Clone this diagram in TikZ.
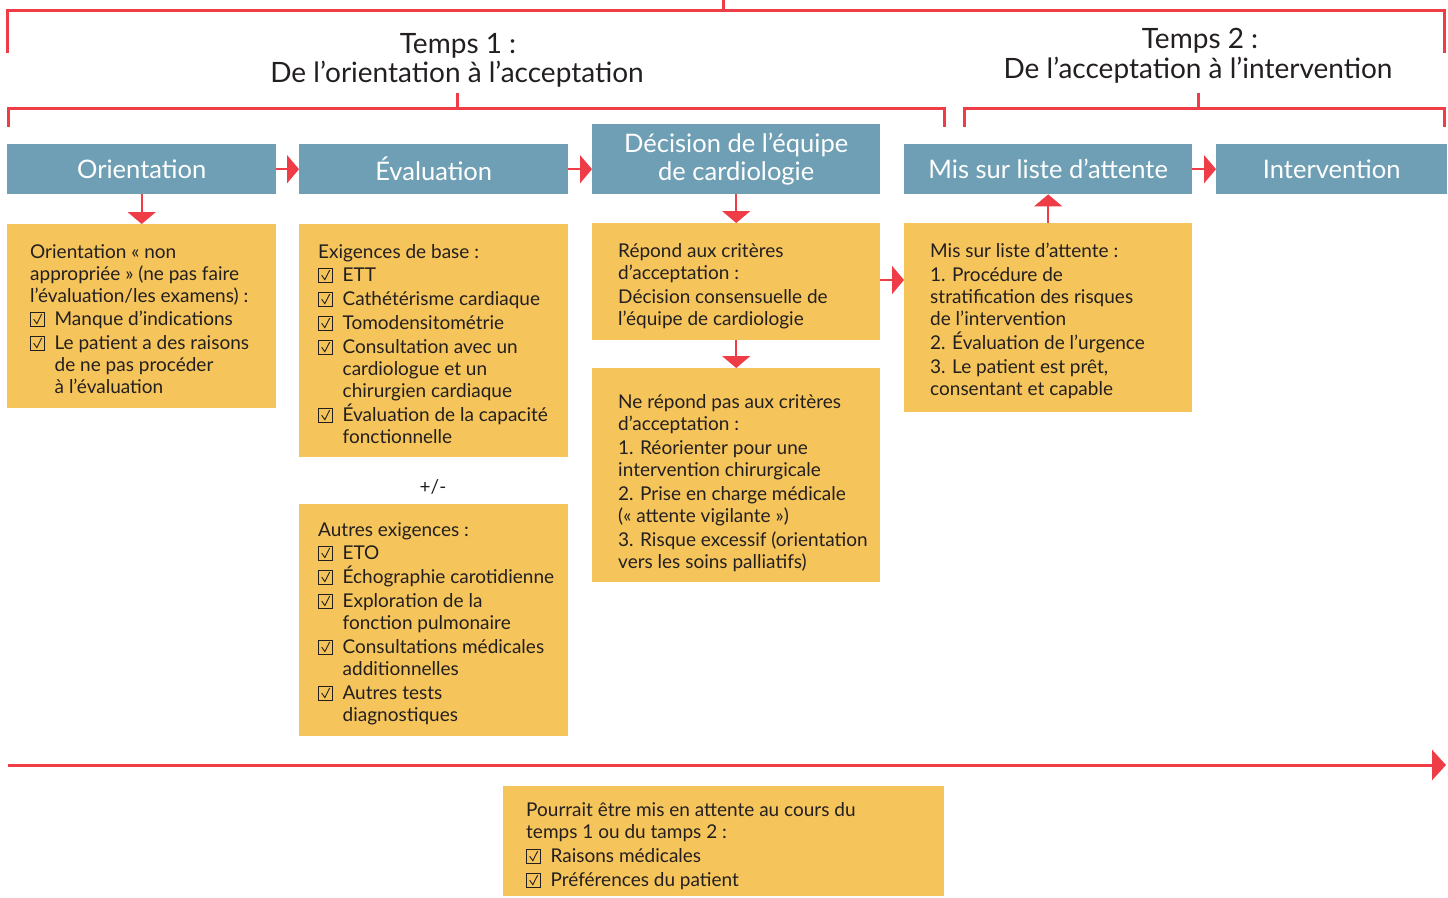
\documentclass[tikz,border=0pt]{standalone}
\usepackage{fontspec}
\setmainfont{Lato}
\usetikzlibrary{arrows.meta}
\definecolor{hdr}{HTML}{6F9FB4}
\definecolor{ybg}{HTML}{F5C55B}
\definecolor{rline}{HTML}{EE3D47}
\definecolor{txt}{HTML}{231F20}
\newcommand\cbx{\tikz[baseline=0pt,x=1pt,y=1pt,line width=0.9pt]{\draw[txt] (0,-1.5) rectangle (13.5,12.5); \draw[txt] (3,6)--(6.2,1.5)--(11,11);}\hspace{10pt}}
\newcommand\ind{\hspace*{24.5pt}}
\begin{document}
\begin{tikzpicture}[x=1pt,y=-1pt,
  hdrbox/.style={fill=hdr, draw=none, text=white, font=\fontsize{25.5}{28}\selectfont, inner sep=0, align=center, anchor=north west},
  ybox/.style={fill=ybg, draw=none, inner sep=0, anchor=north west},
  body/.style={anchor=north west, inner sep=0, align=left, text=txt, font=\fontsize{19}{22}\selectfont},
  ttl/.style={text=txt, inner sep=0, align=center, font=\fontsize{28}{29}\selectfont},
  br/.style={draw=rline, line width=3pt},
  con/.style={draw=rline, line width=2pt, -{Triangle[length=12pt,width=28pt]}},
  timeline/.style={draw=rline, line width=3pt, -{Triangle[length=14pt,width=30pt]}}
]
\useasboundingbox (0,0) rectangle (1448,897);

% brackets
\draw[br] (7,53) |- (1444,10) -- (1444,53);
\draw[br] (723,0) -- (723,10);
\draw[br] (8,127) |- (944,108) -- (944,127);
\draw[br] (457,93) -- (457,108);
\draw[br] (964,127) |- (1444,108) -- (1444,127);
\draw[br] (1198,93) -- (1198,108);

% titles
\node[ttl] (t1a) at (458,46) {Temps 1 :};
\node[ttl] (t1b) at (457,74) {De l’orientation à l’acceptation};
\node[ttl] (t2a) at (1200,41) {Temps 2 :};
\node[ttl] (t2b) at (1198,70) {De l’acceptation à l’intervention};

% headers
\node[hdrbox, minimum width=269, minimum height=50] (h1) at (7,144) {Orientation};
\node[hdrbox, minimum width=269, minimum height=50] (h2) at (299,144) {Évaluation};
\node[hdrbox, minimum width=288, minimum height=70] (h3) at (592,124) {Décision de l’équipe\\de cardiologie};
\node[hdrbox, minimum width=288, minimum height=50] (h4) at (904,144) {Mis sur liste d’attente};
\node[hdrbox, minimum width=231, minimum height=50] (h5) at (1216,144) {Intervention};

% yellow boxes
\node[ybox, minimum width=269, minimum height=184] (o1) at (7,224) {};
\node[ybox, minimum width=269, minimum height=233] (e1) at (299,224) {};
\node[ybox, minimum width=269, minimum height=232] (e2) at (299,504) {};
\node[ybox, minimum width=288, minimum height=117] (d1) at (592,223) {};
\node[ybox, minimum width=288, minimum height=214] (d2) at (592,368) {};
\node[ybox, minimum width=288, minimum height=189] (m1) at (904,223) {};
\node[ybox, minimum width=441, minimum height=110] (b1) at (503,786) {};

% texts
\node[body] (o1t) at (30,244) {Orientation « non\\
appropriée » (ne pas faire\\
l’évaluation/les examens) :\\[1pt]
\cbx Manque d’indications\\[2pt]
\cbx Le patient a des raisons\\
\ind de ne pas procéder\\
\ind à l’évaluation};

\node[body] (e1t) at (318,244) {Exigences de base :\\[1pt]
\cbx ETT\\[2pt]
\cbx Cathétérisme cardiaque\\[2pt]
\cbx Tomodensitométrie\\[2pt]
\cbx Consultation avec un\\
\ind cardiologue et un\\
\ind chirurgien cardiaque\\[2pt]
\cbx Évaluation de la capacité\\
\ind fonctionnelle};

\node[text=txt, inner sep=0, font=\fontsize{19}{22}\selectfont] (pm) at (433,487) {+/-};

\node[body] (e2t) at (318,522) {Autres exigences :\\[1pt]
\cbx ETO\\[2pt]
\cbx Échographie carotidienne\\[2pt]
\cbx Exploration de la\\
\ind fonction pulmonaire\\[2pt]
\cbx Consultations médicales\\
\ind additionnelles\\[2pt]
\cbx Autres tests\\
\ind diagnostiques};

\node[body] (d1t) at (618,243) {Répond aux critères\\
d’acceptation :\\[2pt]
Décision consensuelle de\\
l’équipe de cardiologie};

\node[body] (d2t) at (618,394) {Ne répond pas aux critères\\
d’acceptation :\\[2pt]
1. Réorienter pour une\\
intervention chirurgicale\\[2pt]
2. Prise en charge médicale\\
(« attente vigilante »)\\[2pt]
3. Risque excessif (orientation\\
vers les soins palliatifs)};

\node[body] (m1t) at (930,243) {Mis sur liste d’attente :\\[2pt]
1. Procédure de\\
stratification des risques\\
de l’intervention\\[2pt]
2. Évaluation de l’urgence\\[2pt]
3. Le patient est prêt,\\
consentant et capable};

\node[body] (b1t) at (526,802) {Pourrait être mis en attente au cours du\\
temps 1 ou du tamps 2 :\\[2pt]
\cbx Raisons médicales\\[2pt]
\cbx Préférences du patient};

% connectors
\draw[con] (h1.east) -- (h2.west);
\draw[con] (h2.east) -- (h2.east -| h3.west);
\draw[con] (h4.east) -- (h5.west);
\draw[con] (h1.south) -- (o1.north);
\draw[con] (h3.south) -- (d1.north);
\draw[con] (d1.south) -- (d2.north);
\draw[con] (m1.north) -- (h4.south);
\draw[con] (d1.east |- 0,280) -- (m1.west |- 0,280);

% timeline
\coordinate (tl0) at (8,765);
\coordinate (tl1) at (1446,765);
\draw[timeline] (tl0) -- (tl1);
\end{tikzpicture}
\end{document}
